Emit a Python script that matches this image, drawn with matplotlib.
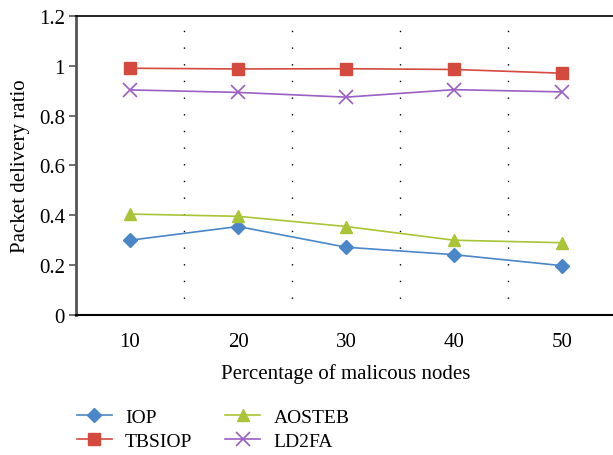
import matplotlib.pyplot as plt

plt.rcParams['font.family'] = ['Liberation Serif', 'DejaVu Serif']

malicious = [10, 20, 30, 40, 50]
iop = [0.30, 0.355, 0.272, 0.242, 0.198]
tbsiop = [0.99, 0.987, 0.988, 0.985, 0.97]
aosteb = [0.405, 0.396, 0.355, 0.30, 0.29]
ld2fa = [0.903, 0.893, 0.874, 0.904, 0.895]
grid_x = [15, 25, 35, 45]

fig = plt.figure(figsize=(6.13, 4.56), dpi=100)
ax = fig.add_axes([0.124, 0.307, 0.881, 0.656])

for gx in grid_x:
    ax.axvline(gx, color='black', lw=1.0, linestyle=(0, (1, 11)), zorder=1)

ax.plot(malicious, iop, color='#4a86c8', marker='D', ms=7, lw=1.2, label='IOP', zorder=3)
ax.plot(malicious, tbsiop, color='#d44a3f', marker='s', ms=8, lw=1.2, label='TBSIOP', zorder=3)
ax.plot(malicious, aosteb, color='#a9c436', marker='^', ms=8, lw=1.2, label='AOSTEB', zorder=3)
ax.plot(malicious, ld2fa, color='#9a5fc5', marker='x', ms=10, mew=1.2, lw=1.2, label='LD2FA', zorder=3)

ax.set_xlim(5, 55)
ax.set_ylim(0, 1.2)
ax.set_xticks(malicious)
ax.set_yticks([0, 0.2, 0.4, 0.6, 0.8, 1.0, 1.2])
ax.set_yticklabels(['0', '0.2', '0.4', '0.6', '0.8', '1', '1.2'])
ax.tick_params(axis='x', length=0, pad=12, labelsize=15)
ax.tick_params(axis='y', length=5, width=1.2, direction='out', labelsize=15,
               color='#555555', pad=3)

ax.spines['left'].set_color('#555555')
ax.spines['left'].set_linewidth(2)
ax.spines['bottom'].set_linewidth(1.5)
ax.spines['top'].set_linewidth(1.2)
ax.spines['right'].set_visible(False)

ax.set_xlabel('Percentage of malicous nodes', fontsize=15, labelpad=9)
ax.set_ylabel('Packet delivery ratio', fontsize=15, labelpad=6)

fig.legend(loc='upper left', bbox_to_anchor=(0.1256, 0.103), ncol=2, frameon=False,
           fontsize=14, handlelength=1.8, columnspacing=1.7, labelspacing=0.35,
           borderaxespad=0, borderpad=0, handletextpad=0.67)

fig.savefig('out.png', dpi=100)
